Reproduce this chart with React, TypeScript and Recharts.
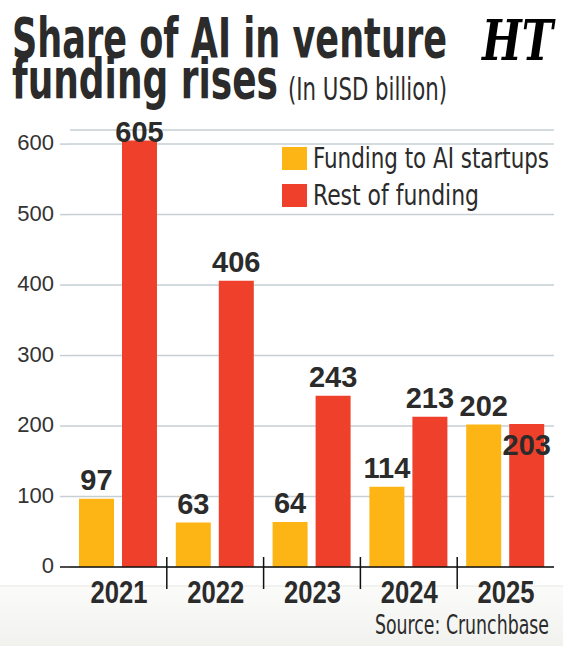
import { BarChart, Bar, XAxis, YAxis, CartesianGrid, Legend, LabelList } from 'recharts';

const years = ['2021', '2022', '2023', '2024', '2025'];
const aiFunding = [97, 63, 64, 114, 202];
const restFunding = [605, 406, 243, 213, 203];
const yTicks = [0, 100, 200, 300, 400, 500, 600];

const W = 563;
const H = 646;
const YELLOW = '#FDB515';
const RED = '#EE402B';
const GRID = '#c6cfd4';
const INK = '#2b2b2b';
const NARROW = "'DejaVu Sans Condensed', 'Liberation Sans Narrow', 'Liberation Sans', Arial, sans-serif";
const SANS = "'Liberation Sans', Arial, sans-serif";

const PLOT_LEFT = 70;
const PLOT_RIGHT = 554;
const PLOT_BOTTOM = 567;
const BAND = (PLOT_RIGHT - PLOT_LEFT) / years.length;
const LEGEND_H = 70;

const data = years.map((year, i) => ({ year, ai: aiFunding[i], rest: restFunding[i] }));

function YTick({ y, payload }: any) {
  return (
    <g>
      <line
        x1={PLOT_LEFT - 10}
        x2={PLOT_LEFT}
        y1={y}
        y2={y}
        stroke={payload.value === 0 ? '#111' : GRID}
        strokeWidth={1.5}
      />
      <text x={54} y={y + 6} textAnchor="end" fontSize={22} fill="#333" fontFamily={SANS}>
        {payload.value}
      </text>
    </g>
  );
}

function XTick({ x, payload, index }: any) {
  const sep = x - BAND / 2;
  return (
    <g>
      {index > 0 && (
        <line x1={sep} x2={sep} y1={PLOT_BOTTOM - 10} y2={PLOT_BOTTOM + 22} stroke="#111" strokeWidth={1.5} />
      )}
      <text
        x={x - 28}
        y={PLOT_BOTTOM + 36}
        fontSize={31}
        fontWeight="bold"
        fill={INK}
        fontFamily={SANS}
        textLength={57}
        lengthAdjust="spacingAndGlyphs"
      >
        {payload.value}
      </text>
    </g>
  );
}

const barLabel = (series: 'ai' | 'rest') => (props: any) => {
  const { x, y, width, value, index } = props;
  let dy = -9;
  // top bar sits right at the edge, label squeezed down onto it
  if (series === 'rest' && index === 0) dy = 1;
  // 2025 rest bar: label tucked under the top of the bar
  if (series === 'rest' && index === years.length - 1) dy = 31;
  return (
    <text
      x={x + width / 2}
      y={y + dy}
      textAnchor="middle"
      fontSize={29}
      fontWeight="bold"
      fill={INK}
      fontFamily={SANS}
    >
      {value}
    </text>
  );
};

function LegendBox({ payload }: any) {
  const items = payload || [];
  const lengths = [236, 166];
  return (
    <svg width={280} height={LEGEND_H}>
      {items.map((item: any, i: number) => (
        <g key={item.value} transform={`translate(0, ${i * 37})`}>
          <rect x={2} y={2} width={25} height={23} fill={item.color} />
          <text
            x={33}
            y={23}
            fontSize={28}
            fill={INK}
            fontFamily={NARROW}
            textLength={lengths[i]}
            lengthAdjust="spacingAndGlyphs"
          >
            {item.value}
          </text>
        </g>
      ))}
    </svg>
  );
}

export default function App() {
  return (
    <div style={{ position: 'absolute', left: 0, top: 0, width: W, height: H, background: '#fff' }}>
      <svg width={W} height={H} style={{ position: 'absolute', left: 0, top: 0 }}>
        <defs>
          <linearGradient id="foot" x1="0" y1="0" x2="0" y2="1">
            <stop offset="0%" stopColor="#fbfbfa" />
            <stop offset="100%" stopColor="#f1f1ee" />
          </linearGradient>
        </defs>
        <rect x={0} y={586} width={W} height={H - 586} fill="url(#foot)" />
        <line x1={0} x2={W} y1={586} y2={586} stroke="#e6e6e4" strokeWidth={1} />
        <text
          x={12}
          y={57}
          fontSize={55}
          fontWeight="bold"
          fill={INK}
          fontFamily={NARROW}
          textLength={435}
          lengthAdjust="spacingAndGlyphs"
        >
          Share of AI in venture
        </text>
        <text
          x={12}
          y={98}
          fontSize={55}
          fontWeight="bold"
          fill={INK}
          fontFamily={NARROW}
          textLength={266}
          lengthAdjust="spacingAndGlyphs"
        >
          funding rises
        </text>
        <text
          x={288}
          y={100}
          fontSize={32}
          fill={INK}
          fontFamily={NARROW}
          textLength={159}
          lengthAdjust="spacingAndGlyphs"
        >
          (In USD billion)
        </text>
        <text
          x={482}
          y={60}
          fontSize={56}
          fontWeight="bold"
          fontStyle="italic"
          fill="#000"
          fontFamily="'DejaVu Serif', 'Liberation Serif', serif"
          textLength={71}
          lengthAdjust="spacingAndGlyphs"
        >
          HT
        </text>
        <text
          x={375}
          y={634}
          fontSize={26}
          fill={INK}
          fontFamily={NARROW}
          textLength={174}
          lengthAdjust="spacingAndGlyphs"
        >
          Source: Crunchbase
        </text>
      </svg>
      <div style={{ position: 'absolute', left: 0, top: 0 }}>
        <BarChart
          width={W}
          height={H}
          data={data}
          margin={{ top: 130 - LEGEND_H, right: W - PLOT_RIGHT, bottom: 39, left: 10 }}
          barGap={8}
          barSize={35}
        >
          <CartesianGrid vertical={false} stroke={GRID} strokeWidth={1.5} />
          <XAxis
            dataKey="year"
            height={40}
            axisLine={{ stroke: '#111', strokeWidth: 1.5 }}
            tickLine={false}
            tick={<XTick />}
            interval={0}
          />
          <YAxis
            width={60}
            domain={[0, 620]}
            ticks={yTicks}
            axisLine={false}
            tickLine={false}
            tick={<YTick />}
            interval={0}
          />
          <Legend
            verticalAlign="top"
            content={<LegendBox />}
            wrapperStyle={{ position: 'absolute', top: 145, left: 280, width: 280, height: LEGEND_H }}
          />
          <Bar dataKey="ai" name="Funding to AI startups" fill={YELLOW} isAnimationActive={false}>
            <LabelList dataKey="ai" content={barLabel('ai')} />
          </Bar>
          <Bar dataKey="rest" name="Rest of funding" fill={RED} isAnimationActive={false}>
            <LabelList dataKey="rest" content={barLabel('rest')} />
          </Bar>
        </BarChart>
      </div>
    </div>
  );
}
